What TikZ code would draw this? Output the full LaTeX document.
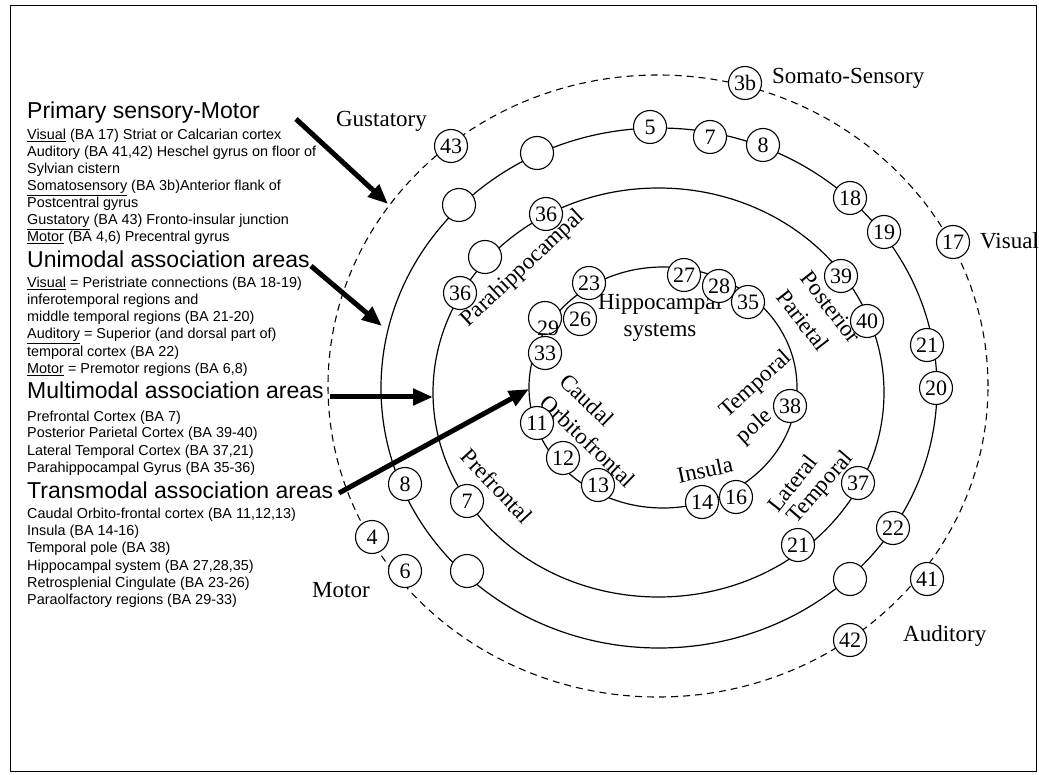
\documentclass[tikz,border=0pt]{standalone}
\usepackage{fontspec}
\setmainfont{Liberation Serif}
\newfontfamily\sansf{Liberation Sans}
\usetikzlibrary{arrows.meta,calc}
\newcommand\headf{\sansf\fontsize{23}{27}\selectfont}
\newcommand\bodyf{\sansf\fontsize{14.4}{17}\selectfont}
\newcommand\labf{\fontsize{23}{27}\selectfont}
\newcommand\numf{\fontsize{22}{26}\selectfont}
\begin{document}
\begin{tikzpicture}[x=1pt,y=-1pt,
  ba/.style={circle,draw,fill=white,line width=1.1pt,minimum size=33pt,inner sep=0pt,font=\numf},
  ring/.style={line width=1.2pt},
  dring/.style={line width=1.1pt,dash pattern=on 7pt off 5pt},
  bigarrow/.style={line width=5pt,-{Triangle[length=20pt,width=16pt]}},
  head/.style={anchor=base west,inner sep=0pt,font=\headf},
  body/.style={anchor=base west,inner sep=0pt,font=\bodyf},
  lab/.style={inner sep=0pt,font=\labf},
]
\useasboundingbox (0,0) rectangle (1039,775);
\draw[line width=1pt] (10,6) rectangle (1036,771);

% rings
\draw[dring] (658,386) ellipse [x radius=330pt, y radius=311pt];
\draw[ring] (659,388) ellipse [x radius=278pt, y radius=260pt];
\draw[ring] (658.5,392.5) ellipse [x radius=225.5pt, y radius=204.5pt];
\draw[ring] (663,387.5) ellipse [x radius=134pt, y radius=120.5pt];

% left text
\node[head] (h1) at (27,119) {Primary sensory-Motor};
\node[body] (l11) at (27,140) {\underline{Visual} (BA 17) Striat or Calcarian cortex};
\node[body] (l12) at (27,157) {Auditory (BA 41,42) Heschel gyrus on floor of};
\node[body] (l13) at (27,174) {Sylvian cistern};
\node[body] (l14) at (27,191) {\underline{Somatosensory} (BA 3b)Anterior flank of};
\node[body] (l15) at (27,208) {Postcentral gyrus};
\node[body] (l16) at (27,225) {\underline{Gustatory} (BA 43) Fronto-insular junction};
\node[body] (l17) at (27,242) {\underline{Motor} (BA 4,6) Precentral gyrus};
\node[head] (h2) at (27,268) {Unimodal association areas};
\node[body] (l21) at (27,288) {\underline{Visual} = Peristriate connections (BA 18-19)};
\node[body] (l22) at (27,305) {inferotemporal regions and};
\node[body] (l23) at (27,322) {middle temporal regions (BA 21-20)};
\node[body] (l24) at (27,339) {\underline{Auditory} = Superior (and dorsal part of)};
\node[body] (l25) at (27,357) {temporal cortex (BA 22)};
\node[body] (l26) at (27,374) {\underline{Motor} = Premotor regions (BA 6,8)};
\node[head] (h3) at (27,399) {Multimodal association areas};
\node[body] (l31) at (27,421) {Prefrontal Cortex (BA 7)};
\node[body] (l32) at (27,438) {Posterior Parietal Cortex (BA 39-40)};
\node[body] (l33) at (27,455) {Lateral Temporal Cortex (BA 37,21)};
\node[body] (l34) at (27,472) {Parahippocampal Gyrus (BA 35-36)};
\node[head] (h4) at (27,498) {Transmodal association areas};
\node[body] (l41) at (27,518) {Caudal Orbito-frontal cortex (BA 11,12,13)};
\node[body] (l42) at (27,535) {Insula (BA 14-16)};
\node[body] (l43) at (27,552) {Temporal pole (BA 38)};
\node[body] (l44) at (27,570) {Hippocampal system (BA 27,28,35)};
\node[body] (l45) at (27,587) {Retrosplenial Cingulate (BA 23-26)};
\node[body] (l46) at (27,604) {Paraolfactory regions (BA 29-33)};

% region labels
\node[lab,anchor=base west] (somato) at (772,84) {Somato-Sensory};
\node[lab,anchor=base east] (gust) at (427,127) {Gustatory};
\node[lab,anchor=base west] (visual) at (980,249) {Visual};
\node[lab,anchor=base west] (motor) at (312,597) {Motor};
\node[lab,anchor=base west] (audit) at (903,641) {Auditory};
\node[lab,anchor=base] (hip1) at (660,310) {Hippocampal};
\node[lab,anchor=base] (hip2) at (660,337) {systems};
\node[lab,rotate=43] (parah) at (523,269) {Parahippocampal};
\node[lab,rotate=-52] (post) at (831,307) {Posterior};
\node[lab,rotate=-52] (pari) at (803,320) {Parietal};
\node[lab,rotate=42] (tp1) at (756,385) {Temporal};
\node[lab,rotate=42] (tp2) at (755,427) {pole};
\node[lab,rotate=-44] (caud) at (587,400) {Caudal};
\node[lab,rotate=-44] (orbi) at (588,441) {Orbitofrontal};
\node[lab,rotate=12] (insu) at (705,470) {Insula};
\node[lab,rotate=-47] (pref) at (497,486) {Prefrontal};
\node[lab,rotate=52] (lat1) at (792,483) {Lateral};
\node[lab,rotate=49] (lat2) at (821,488) {Temporal};

% circles on dashed ring
\foreach \x/\y/\t/\n in {745/83/3b/d3b, 451/146/43/d43, 953/242/17/d17, 927/579/41/d41,
  850/640/42/d42, 372/537/4/d4, 405/571/6/d6}
  {\node[ba] (\n) at (\x,\y) {\t};}
% circles on ring 2
\foreach \x/\y/\t/\n in {650/127/5/a5, 710/137/7/a7, 763/145/8/a8, 850/198/18/a18,
  884/232/19/a19, 927/345/21/a21, 936/388/20/a20, 893/528/22/a22, 850/579/{}/ae1,
  467/571/{}/ae2, 405/484/8/a8b, 459/205/{}/ae3, 537/153/{}/ae4}
  {\node[ba] (\n) at (\x,\y) {\t};}
% circles on ring 3
\foreach \x/\y/\t/\n in {546/214/36/b36, 841/276/39/b39, 867/321/40/b40, 858/483/37/b37,
  798/545/21/b21, 467/501/7/b7, 460/293/36/b36b, 485/257/{}/be1}
  {\node[ba] (\n) at (\x,\y) {\t};}
% circles on ring 4
\foreach \x/\y/\t/\n in {589/283/23/c23, 684/275/27/c27, 719/286/28/c28, 748/302/35/c35,
  790/406/38/c38, 736/497/16/c16, 702/502/14/c14, 598/485/13/c13, 563/458/12/c12,
  537/423/11/c11, 580/319/26/c26}
  {\node[ba] (\n) at (\x,\y) {\t};}
\node[ba] (c29) at (545,318) {};
\node[font=\numf,inner sep=0pt] (c29t) at ($(c29.center)+(3,10)$) {29};
\node[ba] (c33) at (545,353) {33};

% arrows
\coordinate (a1s) at (296,119);
\coordinate (a1e) at (388,204);
\coordinate (a2s) at (311,266);
\coordinate (a2e) at (382,326);
\coordinate (a3s) at (330,397);
\coordinate (a3e) at (433,397);
\coordinate (a4s) at (339,493);
\coordinate (a4e) at (529,389);
\draw[bigarrow] (a1s) -- (a1e);
\draw[bigarrow] (a2s) -- (a2e);
\draw[bigarrow] (a3s) -- (a3e);
\draw[bigarrow] (a4s) -- (a4e);
\end{tikzpicture}
\end{document}
